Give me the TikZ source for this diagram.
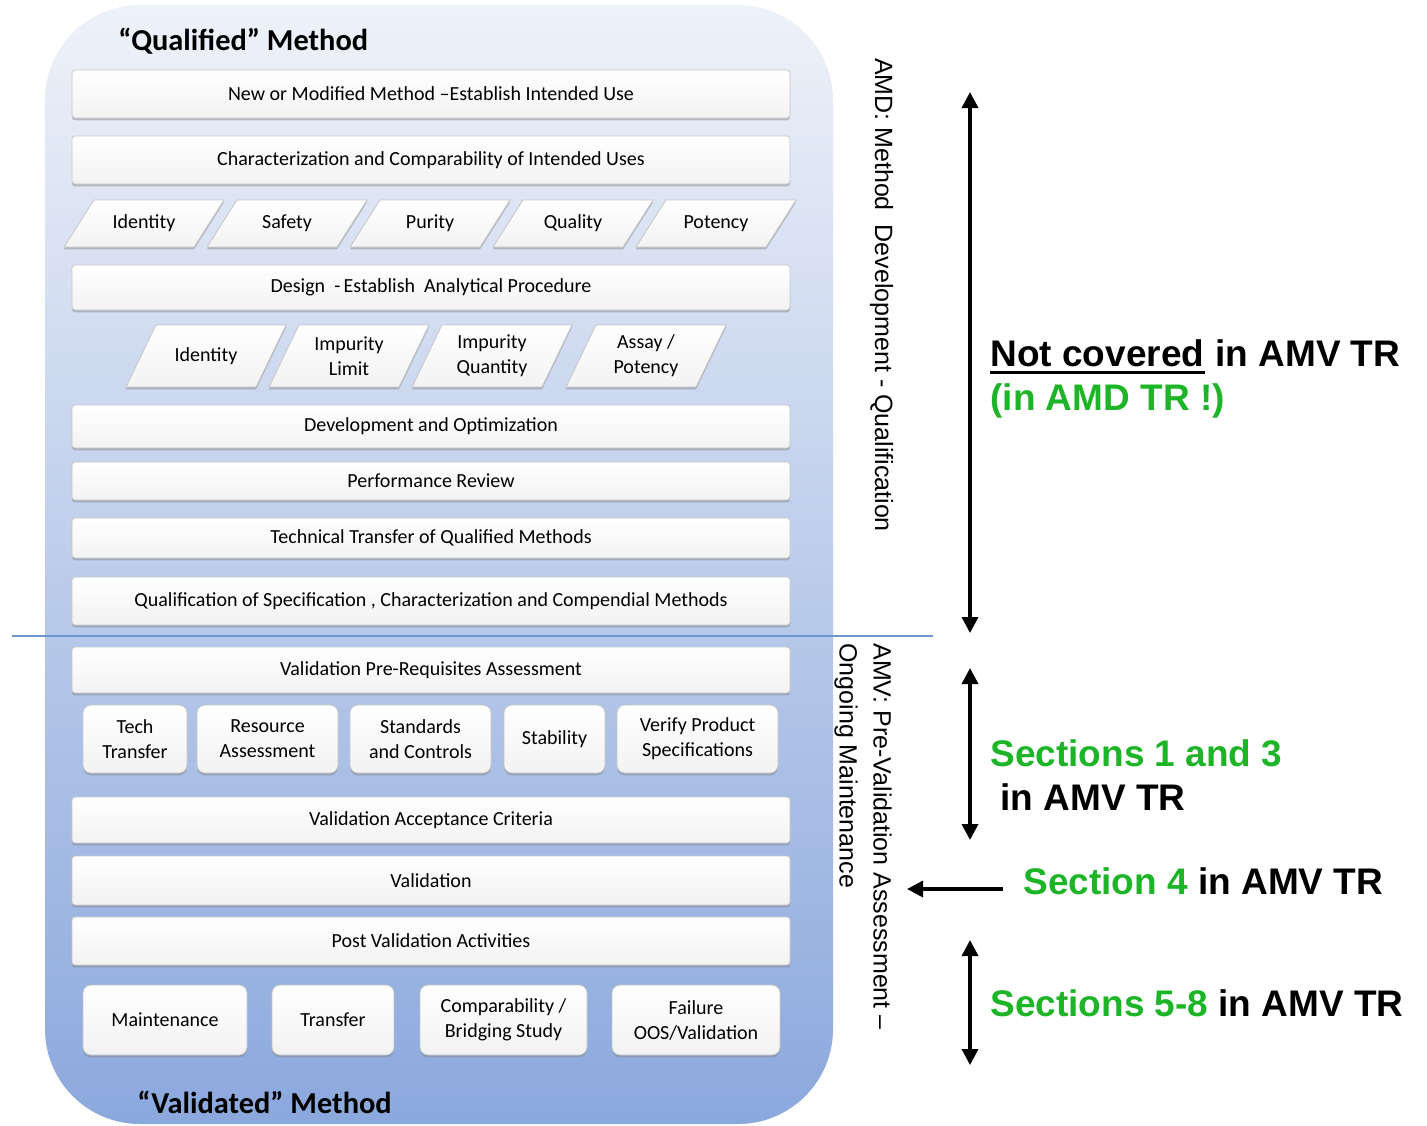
\documentclass[tikz,border=0pt]{standalone}
\usepackage{fontspec}
\setmainfont{Carlito}
\newfontfamily\arialfont{Liberation Sans}
\usetikzlibrary{arrows.meta,shapes.geometric,shadows}
\definecolor{bgtop}{HTML}{EEF2F9}
\definecolor{bgmid}{HTML}{C9D6EF}
\definecolor{bgbot}{HTML}{8BA8DD}
\definecolor{sepline}{HTML}{6F95CF}
\definecolor{amvgreen}{RGB}{30,180,40}
\tikzset{
  bx/.style = {align=center, inner sep=0pt, font=\fontsize{10}{12.5}\selectfont,
    draw=gray!45, line width=0.4pt, top color=white, bottom color=gray!10,
    drop shadow={shadow xshift=0pt, shadow yshift=-1.2pt, opacity=0.45}},% boite de base
  bx_wide/.style = {bx, rectangle, rounded corners=1.5pt, minimum width=359pt, minimum height=#1},% boite large
  bx_small/.style = {bx, rectangle, rounded corners=4pt, minimum height=34pt, minimum width=#1},% petite boite
  bx_low/.style = {bx, rectangle, rounded corners=4pt, minimum height=35pt, minimum width=#1},% boite du bas
  bx_para/.style = {bx, trapezium, trapezium left angle=57.5, trapezium right angle=122.5,
    trapezium stretches body, inner ysep=11.75pt, text height=0pt, text depth=0pt, minimum width=80pt},% parallelogramme
  bx_para2/.style = {bx, trapezium, trapezium left angle=64.2, trapezium right angle=115.8,
    trapezium stretches body, inner ysep=15.5pt, text height=0pt, text depth=0pt, minimum width=80pt},% parallelogramme haut
  para_lbl/.style = {align=center, inner sep=0pt, font=\fontsize{10}{12.5}\selectfont},% texte du parallelogramme
  ttl/.style = {inner sep=0pt, anchor=base west, font=\fontsize{15.2}{18}\bfseries\selectfont},% titre
  side/.style = {inner sep=0pt, rotate=-90, font=\arialfont\fontsize{12.5}{17}\selectfont},% texte vertical
  note/.style = {inner sep=0pt, anchor=base west, font=\arialfont\fontsize{18.5}{22}\bfseries\selectfont},% texte a droite
  dbl/.style = {{Triangle[length=8pt,width=8pt]}-{Triangle[length=8pt,width=8pt]}, line width=1.75pt}% fleche double
}
\begin{document}
\begin{tikzpicture}[x=0.5pt,y=-0.5pt]
\useasboundingbox (0,0) rectangle (1427,1125);
\shade[top color=bgtop, middle color=bgmid, bottom color=bgbot, rounded corners=47.5pt] (45,5) rectangle (833,1124);
\coordinate (sl) at (12,636);
\coordinate (sr) at (933,636);
\draw[sepline, line width=1pt] (sl) -- (sr);

\node[ttl] (qual) at (118,50) {“Qualified” Method};
\node[ttl] (vali) at (137,1113) {“Validated” Method};

\node[bx_wide=24pt] (nmm) at (431,94) {New or Modified Method –Establish Intended Use};
\node[bx_wide=24pt] (cci) at (431,160) {Characterization and Comparability of Intended Uses};
\node[bx_para, label={[para_lbl]center:Identity}] (p1) at (144,223.5) {};
\node[bx_para, label={[para_lbl]center:Safety}] (p2) at (287,223.5) {};
\node[bx_para, label={[para_lbl]center:Purity}] (p3) at (430,223.5) {};
\node[bx_para, label={[para_lbl]center:Quality}] (p4) at (573,223.5) {};
\node[bx_para, label={[para_lbl]center:Potency}] (p5) at (716,223.5) {};
\node[bx_wide=22.5pt] (dsg) at (431,287.5) {Design~~-\,Establish~~Analytical Procedure};
\node[bx_para2, label={[para_lbl]center:Identity}] (q1) at (206,356) {};
\node[bx_para2, label={[para_lbl]center:{Impurity\\Limit}}] (q2) at (349,356) {};
\node[bx_para2, label={[para_lbl]center:{Impurity\\Quantity}}] (q3) at (492,356) {};
\node[bx_para2, label={[para_lbl]center:{Assay /\\Potency}}] (q4) at (646,356) {};
\node[bx_wide=21.5pt] (dvo) at (431,426.5) {Development and Optimization};
\node[bx_wide=19pt] (prv) at (431,481) {Performance Review};
\node[bx_wide=20pt] (ttq) at (431,538) {Technical Transfer of Qualified Methods};
\node[bx_wide=24pt] (qsc) at (431,601) {Qualification of Specification , Characterization and Compendial Methods};

\node[bx_wide=23pt] (vpr) at (431,670) {Validation Pre-Requisites Assessment};
\node[bx_small=52pt] (s1) at (135,739) {Tech\\Transfer};
\node[bx_small=70.5pt] (s2) at (267.5,739) {Resource\\Assessment};
\node[bx_small=70.5pt] (s3) at (420.5,739) {Standards\\and Controls};
\node[bx_small=50.5pt] (s4) at (554.5,739) {Stability};
\node[bx_small=80.5pt] (s5) at (697.5,739) {Verify Product\\Specifications};
\node[bx_wide=23pt] (vac) at (431,820) {Validation Acceptance Criteria};
\node[bx_wide=24.5pt] (val) at (431,880.5) {Validation};
\node[bx_wide=24pt] (pva) at (431,941) {Post Validation Activities};
\node[bx_low=82pt] (b1) at (165,1020) {Maintenance};
\node[bx_low=61pt] (b2) at (333,1020) {Transfer};
\node[bx_low=83.5pt] (b3) at (503.5,1020) {Comparability /\\Bridging Study};
\node[bx_low=84pt] (b4) at (696,1020) {Failure\\OOS/Validation};

\node[side, anchor=base] (amd) at (875,295) {AMD: Method~~Development - Qualification};
\node[side, anchor=north west, align=left] (amv) at (892,643) {AMV: Pre-Validation Assessment –\\Ongoing Maintenance};

\coordinate (u1) at (970,92);
\coordinate (d1) at (970,633);
\coordinate (u2) at (970,668);
\coordinate (d2) at (970,840);
\coordinate (u3) at (970,940);
\coordinate (d3) at (970,1065);
\coordinate (lt) at (1003,889);
\coordinate (lh) at (907,889);
\draw[dbl] (u1) -- (d1);
\draw[dbl] (u2) -- (d2);
\draw[dbl] (u3) -- (d3);
\draw[-{Triangle[length=8pt,width=8pt]}, line width=1.75pt] (lt) -- (lh);

\node[note] (nc) at (990,366) {Not covered};
\node[note] (nc2) at (nc.base east) {\ in AMV TR};
\draw[line width=1.5pt] ([yshift=-3pt]nc.base west) -- ([yshift=-3pt]nc.base east);
\node[note, amvgreen] (amd2) at (990,410) {(in AMD TR !)};
\node[note, amvgreen] (sec13) at (990,766) {Sections 1 and 3};
\node[note] (sec13b) at (1000,810) {in AMV TR};
\node[note] (sec4) at (1023,894) {\textcolor{amvgreen}{Section 4} in AMV TR};
\node[note] (sec58) at (990,1016) {\textcolor{amvgreen}{Sections 5-8} in AMV TR};
\end{tikzpicture}
\end{document}
